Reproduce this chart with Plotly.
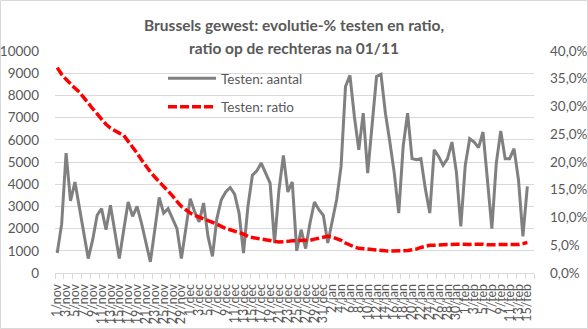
import plotly.graph_objects as go

# Category axis: one entry per day, 1 Nov .. 16 Feb
month_names = ["nov", "dec", "jan", "feb"]
month_days = [30, 31, 31, 16]
dates = [f"{d}/{m}" for m, n in zip(month_names, month_days) for d in range(1, n + 1)]

# Daily number of tests (left axis)
tests = [900, 2200, 5400, 3250, 4100, 2950, 1800, 650, 1500, 2600,
         2900, 1950, 3050, 1750, 650, 1950, 3200, 2550, 3000, 2250,
         1400, 500, 1950, 3400, 2700, 2900, 2450, 2000, 650, 2100,
         3350, 2750, 2300, 3150, 1650, 750, 2450, 3300, 3650, 3850,
         3550, 2700, 900, 3000, 4400, 4600, 4950, 4500, 4050, 1350,
         3750, 5300, 3650, 4100, 1000, 1950, 1100, 2250, 3200, 2850,
         2600, 1350, 2250, 3300, 4800, 8400, 8900, 7050, 5550, 7200,
         4500, 6600, 8850, 8950, 7200, 5900, 4500, 2700, 5700, 7200,
         5150, 5100, 5150, 3800, 2700, 5550, 5250, 4850, 5150, 5900,
         4550, 2100, 4850, 6050, 5900, 5650, 6350, 4200, 2000, 4950,
         6400, 5150, 5150, 5600, 4200, 1650, 3900]

# Positivity ratio in percent (right axis)
ratio_pct = [37.0, 35.8, 34.9, 34.0, 33.3, 32.6, 31.7, 30.6, 29.6, 28.6,
             27.7, 26.8, 26.1, 25.6, 25.2, 24.8, 23.8, 22.6, 21.6, 20.4,
             19.2, 18.2, 17.3, 16.5, 15.7, 14.9, 13.9, 12.9, 12.0, 11.4,
             10.8, 10.4, 10.1, 9.8, 9.5, 9.1, 8.8, 8.4, 8.0, 7.8,
             7.6, 7.3, 7.0, 6.6, 6.4, 6.2, 6.1, 6.0, 5.8, 5.7,
             5.6, 5.6, 5.7, 5.8, 5.8, 5.75, 5.75, 5.9, 6.1, 6.3,
             6.5, 6.6, 6.5, 6.2, 5.9, 5.4, 5.0, 4.7, 4.45, 4.35,
             4.3, 4.25, 4.15, 4.05, 4.0, 3.97, 3.95, 3.95, 4.0, 4.05,
             4.1, 4.3, 4.6, 4.8, 5.0, 5.0, 5.0, 5.0, 5.1, 5.15,
             5.2, 5.15, 5.1, 5.15, 5.2, 5.25, 5.2, 5.1, 5.1, 5.1,
             5.1, 5.1, 5.1, 5.1, 5.15, 5.3, 5.5]

title_lines = ["Brussels gewest: evolutie-% testen en ratio,",
               "ratio op de rechteras na 01/11"]

FONT = "Lato"
TXT = "#595959"
GRID = "#d9d9d9"

W, H = 588, 329
ML, MR, MT, MB = 55, 54, 51, 56
PW, PH = W - ML - MR, H - MT - MB
Y0 = H - MB  # pixel row of the x axis


def px_x(p):
    return (p - ML) / PW


def px_y(p):
    return (Y0 - p) / PH


n_cat = len(dates)
x_range = [-0.5, n_cat - 0.5]

fig = go.Figure()

fig.add_trace(go.Scatter(
    x=dates[:len(tests)], y=tests, name="Testen: aantal", mode="lines",
    line=dict(color="#808080", width=3), legendgroup="a", yaxis="y"))

fig.add_trace(go.Scatter(
    x=dates[:len(ratio_pct)], y=[r / 100 for r in ratio_pct], name="Testen: ratio",
    mode="lines", line=dict(color="#ff0000", width=3.5, dash="9px,3px"),
    legendgroup="b", yaxis="y2"))

# carrier for the boundary tick marks of the category axis
fig.add_trace(go.Scatter(x=[], y=[], xaxis="x3", yaxis="y", showlegend=False,
                         hoverinfo="skip"))

fig.update_layout(
    width=W, height=H,
    margin=dict(l=ML, r=MR, t=MT, b=MB, pad=0, autoexpand=False),
    paper_bgcolor="white", plot_bgcolor="white",
    separators=",.",
    font=dict(family=FONT, size=13, color=TXT),
    showlegend=True,
    legend=dict(x=px_x(163), y=px_y(63), xanchor="left", yanchor="top",
                bgcolor="rgba(0,0,0,0)", font=dict(family=FONT, size=13.5, color=TXT),
                itemwidth=48, tracegroupgap=8, traceorder="grouped"),
    xaxis=dict(type="category", categoryorder="array", categoryarray=dates,
               range=x_range, tickmode="array", tickvals=dates[::2],
               ticktext=dates[::2], tickangle=-90, ticks="outside", ticklen=5,
               tickcolor="rgba(0,0,0,0)", showline=True, linecolor=GRID,
               linewidth=1, showgrid=False, zeroline=False, automargin=False,
               tickfont=dict(family=FONT, size=12.5, color=TXT)),
    xaxis3=dict(overlaying="x", anchor="y", range=x_range, showgrid=False,
                zeroline=False, showline=False, showticklabels=False,
                automargin=False, tickmode="array",
                tickvals=[v - 0.5 for v in range(0, n_cat + 1, 2)],
                ticks="outside", ticklen=5, tickcolor=GRID, tickwidth=1),
    yaxis=dict(range=[0, 10000], dtick=1000, tickformat="d", showgrid=True,
               gridcolor=GRID, gridwidth=1, zeroline=False, showline=False,
               ticks="", ticklabelstandoff=15, automargin=False,
               tickfont=dict(family=FONT, size=13.5, color=TXT)),
    yaxis2=dict(overlaying="y", side="right", range=[0, 0.40], dtick=0.05,
                tickformat=".1%", showgrid=False, zeroline=False, showline=False,
                ticks="", ticklabelstandoff=15, automargin=False,
                tickfont=dict(family=FONT, size=13.5, color=TXT)),
    annotations=[
        dict(text=f"<b>{title_lines[0]}</b>", xref="paper", yref="paper",
             x=px_x(294), y=px_y(25), xanchor="center", yanchor="middle",
             showarrow=False, font=dict(family=FONT, size=15.5, color=TXT)),
        dict(text=f"<b>{title_lines[1]}</b>", xref="paper", yref="paper",
             x=px_x(294), y=px_y(48), xanchor="center", yanchor="middle",
             showarrow=False, bgcolor="white", borderpad=0,
             font=dict(family=FONT, size=15.5, color=TXT)),
    ],
    shapes=[dict(type="rect", xref="paper", yref="paper", layer="above",
                 x0=px_x(0.5), x1=px_x(W - 0.5), y0=px_y(H - 0.5), y1=px_y(0.5),
                 line=dict(color=GRID, width=1), fillcolor="rgba(0,0,0,0)")],
)

fig.write_html("out.html")
